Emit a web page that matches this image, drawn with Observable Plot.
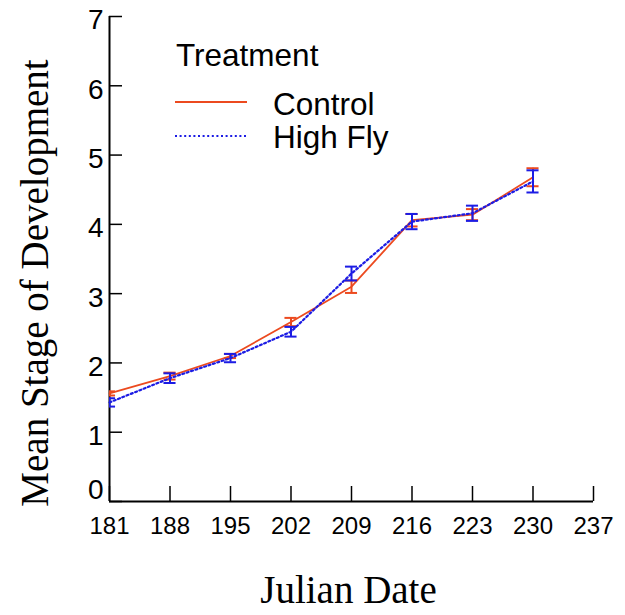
<!DOCTYPE html>
<html>
<head>
<meta charset="utf-8">
<script src="https://cdn.jsdelivr.net/npm/d3@7"></script>
<script src="https://cdn.jsdelivr.net/npm/@observablehq/plot@0.6"></script>
<style>
  html, body { margin: 0; padding: 0; background: #fff; }
  #wrap { position: relative; width: 625px; height: 615px; }
  .leg { position: absolute; font-family: "Liberation Sans", Arial, sans-serif; font-size: 31.5px; line-height: 30px; color: #000; white-space: nowrap; }
  .sw { position: absolute; }
</style>
</head>
<body>
<div id="wrap"></div>
<script>
// Julian dates of each sampling
const dates = [181, 188, 195, 202, 209, 216, 223, 230];

// Mean stage of development and its standard error, per treatment
const controlMean = [1.56, 1.81, 2.10, 2.59, 3.10, 4.06, 4.14, 4.68];
const controlErr  = [0.03, 0.05, 0.03, 0.06, 0.09, 0.09, 0.08, 0.13];
const highFlyMean = [1.43, 1.78, 2.07, 2.45, 3.29, 4.04, 4.16, 4.62];
const highFlyErr  = [0.06, 0.07, 0.06, 0.07, 0.10, 0.11, 0.11, 0.16];

const series = ["Control", "High Fly"];
const legendTitle = "Treatment";

// Axis tick values
const xTicks = [181, 188, 195, 202, 209, 216, 223, 230, 237];
const yTicks = [0, 1, 2, 3, 4, 5, 6, 7];

const colors = {"Control": "#ec4a1f", "High Fly": "#1c1ce4"};
const dashes = {"Control": null, "High Fly": "2 2.6"};

const rows = [];
dates.forEach((d, i) => {
  rows.push({date: d, treatment: "Control", mean: controlMean[i], err: controlErr[i]});
  rows.push({date: d, treatment: "High Fly", mean: highFlyMean[i], err: highFlyErr[i]});
});

const CAP = 0.7; // half width of error-bar caps, in days

const sansFont = "Liberation Sans, Arial, sans-serif";
const serifFont = "Liberation Serif, Times New Roman, serif";

const seriesMarks = series.flatMap(s => {
  const data = rows.filter(r => r.treatment === s);
  const c = colors[s];
  return [
    Plot.ruleX(data, {x: "date", y1: d => d.mean - d.err, y2: d => d.mean + d.err, stroke: c, strokeWidth: 2, clip: true}),
    Plot.ruleY(data, {y: d => d.mean + d.err, x1: d => d.date - CAP, x2: d => d.date + CAP, stroke: c, strokeWidth: 2, clip: true}),
    Plot.ruleY(data, {y: d => d.mean - d.err, x1: d => d.date - CAP, x2: d => d.date + CAP, stroke: c, strokeWidth: 2, clip: true}),
    Plot.line(data, {x: "date", y: "mean", stroke: c, strokeWidth: dashes[s] ? 2.2 : 1.8, strokeDasharray: dashes[s]})
  ];
});

const chart = Plot.plot({
  width: 625,
  height: 615,
  marginTop: 16,
  marginRight: 32,
  marginBottom: 114,
  marginLeft: 109,
  style: {fontFamily: sansFont, background: "#fff"},
  x: {domain: [181, 237], label: null},
  y: {domain: [0, 7], label: null},
  marks: [
    // inward ticks
    Plot.axisX(xTicks, {tickSize: -15, text: null, strokeWidth: 1.5, label: null}),
    Plot.axisY(yTicks, {tickSize: -13, text: null, strokeWidth: 1.5, label: null}),
    // tick labels
    Plot.axisX(xTicks, {tickSize: 0, tickPadding: 15, fontSize: 24, tickFormat: d => d, label: null}),
    Plot.axisY(yTicks.filter(v => v > 0), {tickSize: 0, tickPadding: 6, fontSize: 28, dy: 4, tickFormat: d => d, label: null}),
    Plot.axisY(yTicks.filter(v => v === 0), {tickSize: 0, tickPadding: 6, fontSize: 28, dy: -11, tickFormat: d => d, label: null}),
    // axis lines
    Plot.ruleX([181], {strokeWidth: 2}),
    Plot.ruleY([0], {strokeWidth: 2}),
    ...seriesMarks,
    // axis titles
    Plot.text(["Mean Stage of Development"], {frameAnchor: "left", textAnchor: "middle", rotate: -90, dx: -74, dy: 24, fontFamily: serifFont, fontSize: 39, fill: "#000"}),
    Plot.text(["Julian Date"], {frameAnchor: "bottom", textAnchor: "middle", dx: -3, dy: 101, fontFamily: serifFont, fontSize: 39, fill: "#000"})
  ]
});

const wrap = document.getElementById("wrap");
wrap.appendChild(chart);

// Legend placed inside the plotting area
const legend = d3.select(wrap);
legend.append("div").attr("class", "leg").style("left", "176px").style("top", "40px").text(legendTitle);
const legendRows = [{top: 89, lineY: 101.5}, {top: 122, lineY: 136}];
series.forEach((s, i) => {
  const r = legendRows[i];
  const sw = legend.append("svg").attr("class", "sw")
    .attr("width", 74).attr("height", 6)
    .style("left", "174px").style("top", (r.lineY - 3) + "px");
  sw.append("line").attr("x1", 1).attr("x2", 73).attr("y1", 3).attr("y2", 3)
    .attr("stroke", colors[s]).attr("stroke-width", dashes[s] ? 2.2 : 1.8)
    .attr("stroke-dasharray", dashes[s]);
  legend.append("div").attr("class", "leg").style("left", "273px").style("top", r.top + "px").text(s);
});
</script>
</body>
</html>
